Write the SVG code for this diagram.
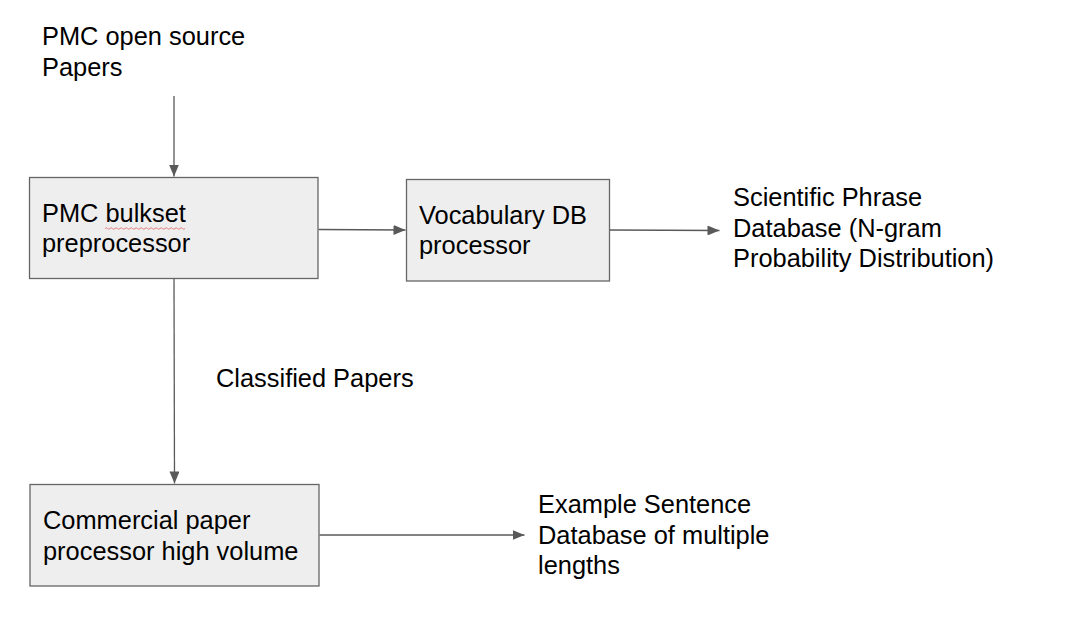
<svg xmlns="http://www.w3.org/2000/svg" width="1089" height="625" viewBox="0 0 1089 625">
<style>
.box{fill:#eeeeee;stroke:#666666;stroke-width:1.3}
.t{font-family:"Liberation Sans",Arial,sans-serif;font-size:25.4px;fill:#000000}
.c{stroke:#595959;stroke-width:1.3;fill:none}
</style>
<defs>
<marker id="ah" markerWidth="12" markerHeight="10" refX="12" refY="5" orient="auto" markerUnits="userSpaceOnUse">
<path d="M0,0 L12,5 L0,10 Z" fill="#595959"/>
</marker>
</defs>
<rect width="1089" height="625" fill="#ffffff"/>
<g id="connectors">
<line class="c" x1="174" y1="96" x2="174" y2="176.5" marker-end="url(#ah)"/>
<line class="c" x1="318.5" y1="229.5" x2="405.5" y2="230" marker-end="url(#ah)"/>
<line class="c" x1="610" y1="230" x2="719.5" y2="230.5" marker-end="url(#ah)"/>
<line class="c" x1="174" y1="279" x2="174.5" y2="483.5" marker-end="url(#ah)"/>
<line class="c" x1="319.5" y1="535" x2="524.5" y2="535" marker-end="url(#ah)"/>
</g>
<g id="source">
<text class="t" x="42" y="44.5">PMC open source</text>
<text class="t" x="42" y="75.5">Papers</text>
</g>
<g id="bulkset">
<rect class="box" x="29.5" y="177.5" width="288.5" height="101"/>
<text class="t" x="42" y="222">PMC bulkset</text>
<text class="t" x="42" y="252">preprocessor</text>
<path d="M105,228.5 q1.25,-1.5 2.5,0 t2.5,0 t2.5,0 t2.5,0 t2.5,0 t2.5,0 t2.5,0 t2.5,0 t2.5,0 t2.5,0 t2.5,0 t2.5,0 t2.5,0 t2.5,0 t2.5,0 t2.5,0 t2.5,0 t2.5,0 t2.5,0 t2.5,0 t2.5,0 t2.5,0 t2.5,0 t2.5,0 t2.5,0 t2.5,0 t2.5,0 t2.5,0 t2.5,0 t2.5,0 t2.5,0 t2.5,0" fill="none" stroke="#e06060" stroke-width="0.8"/>
</g>
<g id="vocab">
<rect class="box" x="406.5" y="179.5" width="203" height="101.5"/>
<text class="t" x="419" y="224">Vocabulary DB</text>
<text class="t" x="419" y="254">processor</text>
</g>
<g id="phrase">
<text class="t" x="733" y="205.5">Scientific Phrase</text>
<text class="t" x="733" y="236.5">Database (N-gram</text>
<text class="t" x="733" y="267">Probability Distribution)</text>
</g>
<g id="classified">
<text class="t" x="216" y="386.5">Classified Papers</text>
</g>
<g id="commercial">
<rect class="box" x="30" y="484.5" width="289" height="101.5"/>
<text class="t" x="43" y="529">Commercial paper</text>
<text class="t" x="43" y="559.5">processor high volume</text>
</g>
<g id="example">
<text class="t" x="538" y="512.5">Example Sentence</text>
<text class="t" x="538" y="544">Database of multiple</text>
<text class="t" x="538" y="574">lengths</text>
</g>
</svg>
